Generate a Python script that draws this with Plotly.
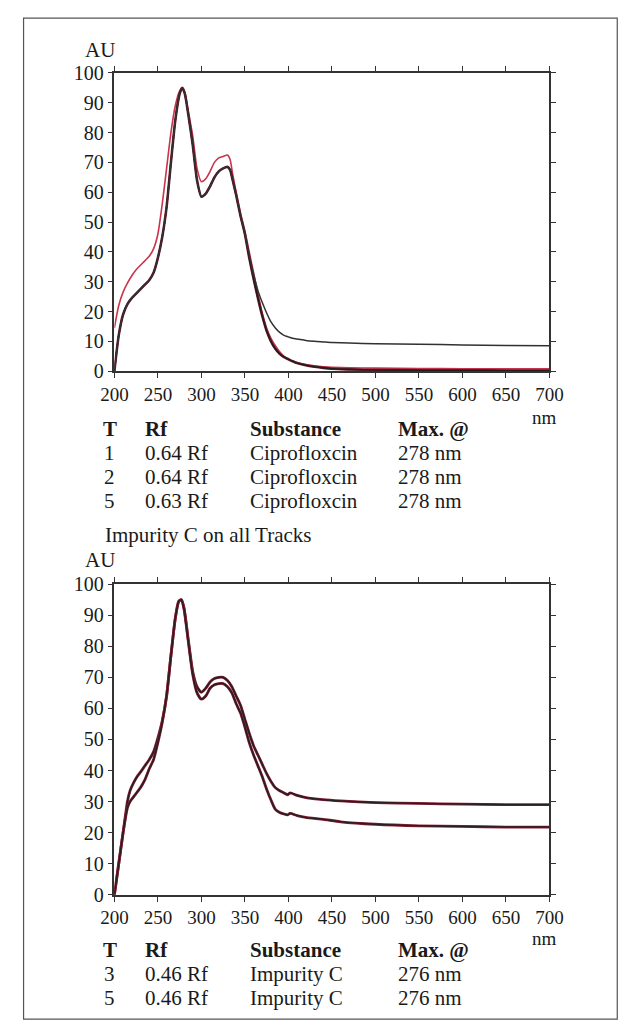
import plotly.graph_objects as go

# ---------------- data ----------------
wl_top = [200, 205, 210, 215, 220, 225, 230, 235, 240, 245, 250, 255, 260, 265, 270, 275, 278, 281,
          285, 290, 295, 300, 305, 310, 315, 320, 325, 330, 333, 336, 340, 345, 350, 355, 360, 365,
          370, 375, 380, 385, 390, 395, 400, 405, 410, 420, 430, 440, 450, 470, 500, 550, 600, 650, 700]

track1_red = [14.5, 22, 26.5, 29.5, 32, 34, 35.5, 37, 38.5, 41, 46, 56, 68, 80, 89, 94, 95, 93.5,
              87, 79, 68, 63.5, 64.5, 67, 70, 71.5, 72, 72.5, 71, 66, 60, 53, 47, 40, 33, 26,
              19.5, 14.5, 11, 8.5, 6.5, 5, 4, 3.3, 2.8, 2.2, 1.8, 1.5, 1.3, 1.1, 1.0, 0.9, 0.8, 0.8, 0.8]

track2_black = [0, 12, 19, 22.5, 24.5, 26, 27.5, 29, 30.5, 33, 38, 45, 55, 70, 84, 93, 95, 93,
                86, 76, 64, 58.5, 59.5, 62, 65, 67, 68, 68.5, 67.5, 64, 59, 52, 46, 39, 32.5, 27,
                23, 19.5, 16.5, 14.5, 13, 12, 11.5, 11, 10.8, 10.3, 10, 9.8, 9.6, 9.4, 9.2, 9, 8.8, 8.6, 8.5]

track5_dark = [0, 12, 19, 22.5, 24.5, 26, 27.5, 29, 30.5, 33, 38, 45, 55, 70, 84, 93, 95, 93,
               86, 76, 64, 58.5, 59.5, 62, 65, 67, 68, 68.5, 67.5, 64, 59, 52, 46, 38, 31, 24.5,
               18.5, 13.5, 10, 7.5, 5.8, 4.7, 4, 3.3, 2.7, 2, 1.5, 1.1, 0.8, 0.6, 0.4, 0.3, 0.3, 0.2, 0.2]

wl_bot = [200, 205, 210, 215, 218, 222, 226, 230, 235, 240, 245, 250, 255, 260, 265, 270, 274, 277,
          280, 285, 290, 295, 300, 305, 310, 315, 320, 325, 330, 335, 340, 345, 350, 355, 360, 365,
          370, 375, 380, 385, 390, 395, 399, 402, 410, 420, 440, 460, 500, 550, 600, 650, 700]

imp_upper = [0, 10, 20, 30, 33.5, 36, 38, 39.5, 41.5, 43.5, 46, 50.5, 56, 64, 77, 89, 94.5, 95,
             92.5, 82, 72, 67, 65.2, 66.5, 68.5, 69.6, 70, 70, 69, 67, 64, 61, 56.5, 52, 48, 45,
             42, 39, 36.5, 34.5, 33.5, 32.8, 32.2, 32.8, 32, 31.3, 30.6, 30.2, 29.7, 29.4, 29.2, 29, 29]

imp_lower = [0, 10, 20, 28, 30, 31.5, 33, 34.5, 37, 40.5, 43.5, 49, 55.5, 64, 77, 89, 94.5, 95,
             92, 81.5, 71, 65, 63, 64, 66.5, 67.6, 68, 68, 67, 65, 61.5, 58.5, 54, 49, 45, 41.5,
             38, 34, 30.5, 27.5, 26.5, 26, 25.7, 26.2, 25.5, 24.9, 24.3, 23.5, 22.7, 22.2, 22, 21.8, 21.8]

x_ticks = [200, 250, 300, 350, 400, 450, 500, 550, 600, 650, 700]
y_ticks = [0, 10, 20, 30, 40, 50, 60, 70, 80, 90, 100]

table_headers = ["T", "Rf", "Substance", "Max. @"]
t1_tracks = ["1", "2", "5"]
t1_rf = ["0.64 Rf", "0.64 Rf", "0.63 Rf"]
t1_substance = ["Ciprofloxcin", "Ciprofloxcin", "Ciprofloxcin"]
t1_max = ["278 nm", "278 nm", "278 nm"]

t2_tracks = ["3", "5"]
t2_rf = ["0.46 Rf", "0.46 Rf"]
t2_substance = ["Impurity C", "Impurity C"]
t2_max = ["276 nm", "276 nm"]

caption_mid = "Impurity C on all Tracks"
y_title = "AU"
x_unit = "nm"

# ---------------- layout helpers ----------------
W, H = 637, 1032
FONT = "Liberation Serif, Times New Roman, serif"


def px(x):
    return x / W


def py(y):
    return 1 - y / H


fig = go.Figure()

# top chart
fig.add_trace(go.Scatter(x=wl_top, y=track1_red, mode="lines", xaxis="x", yaxis="y",
                         line=dict(color="#c8344c", width=1.6, shape="spline", smoothing=0.6),
                         showlegend=False))
fig.add_trace(go.Scatter(x=wl_top, y=track5_dark, mode="lines", xaxis="x", yaxis="y",
                         line=dict(color="#7a2030", width=2.6, shape="spline", smoothing=0.6),
                         showlegend=False))
fig.add_trace(go.Scatter(x=wl_top, y=track5_dark, mode="lines", xaxis="x", yaxis="y",
                         line=dict(color="#231c1e", width=1.6, shape="spline", smoothing=0.6),
                         showlegend=False))
fig.add_trace(go.Scatter(x=wl_top, y=track2_black, mode="lines", xaxis="x", yaxis="y",
                         line=dict(color="#333033", width=1.5, shape="spline", smoothing=0.6),
                         showlegend=False))

# bottom chart: dark lines with a reddish edge
for ys in (imp_upper, imp_lower):
    fig.add_trace(go.Scatter(x=wl_bot, y=ys, mode="lines", xaxis="x2", yaxis="y2",
                             line=dict(color="#8a2035", width=2.8, shape="spline", smoothing=0.6),
                             showlegend=False))
    fig.add_trace(go.Scatter(x=wl_bot, y=ys, mode="lines", xaxis="x2", yaxis="y2",
                             line=dict(color="#2a1e22", width=1.6, shape="spline", smoothing=0.6),
                             showlegend=False))

axis_common = dict(showline=True, linecolor="#333", linewidth=1.5, mirror="ticks",
                   ticks="outside", ticklen=5, tickwidth=1.2, tickcolor="#333",
                   showgrid=False, zeroline=False, fixedrange=True)

x_dom = [px(105), px(560)]
xfont = dict(size=19, family=FONT, color="#1a1a1a")
yfont = dict(size=20, family=FONT, color="#1a1a1a")
fig.update_layout(
    width=W, height=H,
    margin=dict(l=0, r=0, t=0, b=0),
    paper_bgcolor="white", plot_bgcolor="white",
    font=dict(family=FONT, color="#1a1a1a"),
    xaxis=dict(domain=x_dom, range=[200, 700], tickvals=x_ticks, anchor="y",
               tickfont=xfont, **axis_common),
    yaxis=dict(domain=[py(368), py(63.3)], range=[0, 100], tickvals=y_ticks, anchor="x",
               tickfont=yfont, **axis_common),
    xaxis2=dict(domain=x_dom, range=[200, 700], tickvals=x_ticks, anchor="y2",
                tickfont=xfont, **axis_common),
    yaxis2=dict(domain=[py(903), py(585.7)], range=[0, 100], tickvals=y_ticks, anchor="x2",
                tickfont=yfont, **axis_common),
)

annotations = []


def txt(text, x, baseline, size=21, anchor="left", bold=False):
    t = f"<b>{text}</b>" if bold else text
    annotations.append(dict(text=t, x=px(x), y=py(baseline - 0.33 * size), xref="paper", yref="paper",
                            xanchor=anchor, yanchor="middle", showarrow=False,
                            font=dict(size=size, family=FONT, color="#1a1a1a")))


col_x = [100, 135, 245, 400]


def table(header_base, rows, step=24.5):
    for i, h in enumerate(table_headers):
        txt(h, col_x[i], header_base, bold=True, anchor="center" if i == 0 else "left")
    for r, row in enumerate(rows):
        b = header_base + step * (r + 1)
        for i, val in enumerate(row):
            txt(val, col_x[i], b, anchor="center" if i == 0 else "left")


txt(y_title, 72, 47)
txt(x_unit, 555, 422, size=19, anchor="center")
table(434, list(zip(t1_tracks, t1_rf, t1_substance, t1_max)))
txt(caption_mid, 93, 542)
txt(y_title, 72, 568)
txt(x_unit, 555, 954, size=19, anchor="center")
table(966, list(zip(t2_tracks, t2_rf, t2_substance, t2_max)))

fig.update_layout(annotations=annotations)

fig.add_shape(type="rect", xref="paper", yref="paper",
              x0=px(10), x1=px(631), y0=py(1030), y1=py(7.3),
              line=dict(color="#555", width=1.2), fillcolor="rgba(0,0,0,0)", layer="below")

fig.write_html("out.html",
               post_script="document.body.style.margin='0';document.body.style.overflow='hidden';")
